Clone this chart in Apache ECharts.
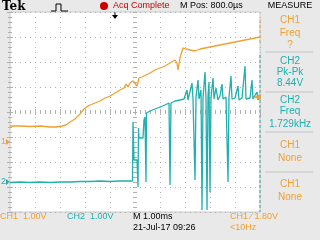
<!DOCTYPE html>
<html><head><meta charset="utf-8">
<script src="https://cdn.jsdelivr.net/npm/echarts@6/dist/echarts.min.js"></script>
<style>html,body{margin:0;padding:0;background:#e9e9e9}#c{width:320px;height:240px}</style>
</head><body><div id="c"></div>
<script>
// ---- data (time in ms relative to trigger, volts) ----
const ch1Time = [-4.2,-3.8,-3.4,-3.0,-2.6,-2.36,-2.12,-1.96,-1.8,-1.6,-1.4,-1.24,-1.08,-0.8,-0.6,-0.4,-0.2,0,0.2,0.36,0.44,0.52,0.6,0.72,0.8,0.88,0.96,1.08,1.24,1.4,1.6,1.8,2.0,2.2,2.4,2.48,2.52,2.6,2.72,2.84,3.0,3.2,3.4,3.6,3.8,4.0,4.2,4.4,4.6,4.8,5.0,5.2,5.4,5.6,5.8];
const ch1Volts = [0.64,0.64,0.62,0.64,0.60,0.60,0.64,0.68,0.80,0.92,1.12,1.32,1.44,1.56,1.64,1.76,1.84,1.96,2.08,2.16,2.32,2.2,2.36,2.44,2.48,2.24,2.56,2.6,2.68,2.76,2.88,2.96,3.04,3.16,3.28,3.16,2.88,3.36,3.76,3.72,3.68,3.64,3.72,3.76,3.8,3.84,3.88,3.92,3.96,4.0,4.04,4.08,4.12,4.16,4.2];
const ch2Time = [-4.2,-3.8,-3.4,-3.0,-2.6,-2.2,-1.8,-1.4,-1.0,-0.6,-0.2,0.2,0.6,0.7,0.72,0.76,0.88,0.92,0.94,0.96,1.12,1.16,1.2,1.24,1.26,1.4,1.6,1.8,2.0,2.16,2.2,2.24,2.4,2.6,2.76,2.88,2.92,3.0,3.08,3.12,3.2,3.24,3.32,3.36,3.44,3.48,3.52,3.6,3.64,3.68,3.72,3.76,3.8,3.84,3.92,3.96,4.04,4.12,4.2,4.28,4.32,4.44,4.52,4.56,4.64,4.68,4.8,4.92,4.96,5.08,5.2,5.24,5.32,5.4,5.48,5.52,5.6,5.68,5.72,5.8];
const ch2Volts = [-0.02,0,-0.02,0,-0.02,0,0,0.02,0.02,0.04,0.02,0.04,0.04,0.04,2.4,0.88,0.88,-0.2,2.16,1.76,1.76,2.48,2.6,0,2.76,2.84,2.92,3.0,3.08,3.16,-0.12,3.16,3.24,3.28,3.32,3.68,3.28,3.36,3.96,3.32,0.08,3.4,4.08,3.32,3.68,-1.12,3.36,4.4,3.32,-1.12,3.44,4.0,-0.4,3.36,4.16,3.32,3.76,3.28,3.44,3.92,3.32,3.4,0,3.4,4.24,3.32,3.36,3.84,3.28,3.36,4.64,3.32,3.28,3.36,4.08,3.32,3.28,3.6,3.28,3.48];
const TRIG_LEVEL = 1.8;
const CH1_POS = -1.2, CH2_POS = -2.8;   // channel offsets in divisions
const T_MIN = -4.2, T_MAX = 5.8;

const ORANGE = '#f0a030', CYAN = '#1fb0b0', RED = '#cc0000';
const FONT = '"Liberation Sans", Arial, sans-serif';

const ch1 = ch1Time.map((t,i)=>[t,ch1Volts[i]]);
const ch2 = ch2Time.map((t,i)=>[t,ch2Volts[i]]);

const chart = echarts.init(document.getElementById('c'), null, {renderer:'canvas'});
const G = {left:10, top:12, width:250, height:200};
const dotted = {color:'#b0b0b0', width:1, type:[1,4]};
function frameX(extra){return Object.assign({type:'value',min:0,max:10,interval:1,axisLabel:{show:false},splitLine:{show:false},
  axisLine:{show:false},axisTick:{show:false},minorTick:{show:false}},extra);}
function frameY(extra){return Object.assign({type:'value',min:-4,max:4,interval:1,axisLabel:{show:false},splitLine:{show:false},
  axisLine:{show:false},axisTick:{show:false},minorTick:{show:false}},extra);}
const tk = {show:true,inside:true,length:3,lineStyle:{color:'#b0b0b0'}};
const mtk = {show:true,splitNumber:5,length:2,lineStyle:{color:'#b0b0b0'}};

const txt = (x,y,s,c,size,extra)=>Object.assign({type:'text',x:x,y:y,style:Object.assign({text:s,fill:c||'#000',font:(size||9)+'px '+FONT,textVerticalAlign:'middle'},extra||{})});

chart.setOption({
  animation:false,
  backgroundColor:'#e9e9e9',
  grid:{left:G.left,top:G.top,width:G.width,height:G.height,show:true,backgroundColor:'#ffffff',borderColor:'#c8c8c8',borderWidth:1},
  xAxis:[
    frameX({position:'bottom',splitLine:{show:true,lineStyle:dotted},axisTick:tk,minorTick:mtk}),
    frameX({position:'top',axisTick:tk,minorTick:mtk}),
    frameX({position:'bottom',offset:-100,axisTick:Object.assign({},tk,{length:2}),minorTick:mtk}),
    frameX({position:'bottom',offset:-100,axisTick:Object.assign({},tk,{inside:false,length:2}),minorTick:mtk}),
    {type:'value',min:T_MIN,max:T_MAX,show:false}
  ],
  yAxis:[
    frameY({position:'left',splitLine:{show:true,lineStyle:dotted},axisTick:tk,minorTick:mtk}),
    frameY({position:'right',axisTick:tk,minorTick:mtk}),
    frameY({position:'left',offset:-125,axisTick:Object.assign({},tk,{length:2}),minorTick:mtk}),
    frameY({position:'left',offset:-125,axisTick:Object.assign({},tk,{inside:false,length:2}),minorTick:mtk}),
    {type:'value',min:-4-CH1_POS,max:4-CH1_POS,show:false},
    {type:'value',min:-4-CH2_POS,max:4-CH2_POS,show:false}
  ],
  series:[
    {type:'line',name:'CH1',xAxisIndex:4,yAxisIndex:4,data:ch1,symbol:'none',lineStyle:{color:ORANGE,width:1.3},clip:true,
     markPoint:{symbol:'triangle',symbolSize:[6,7],symbolRotate:90,symbolOffset:[-3,0],itemStyle:{color:ORANGE},label:{show:false},
       data:[{coord:[T_MAX,TRIG_LEVEL]}]}},
    {type:'line',name:'CH2',xAxisIndex:4,yAxisIndex:5,data:ch2,symbol:'none',lineStyle:{color:CYAN,width:1.3},clip:true}
  ],
  graphic:[
    // header
    txt(2,7,'Tek','#000',12,{font:'bold 12px "DejaVu Serif", serif'}),
    {type:'polyline',shape:{points:[[51,11],[56,11],[56,4],[61,4],[61,11],[68,11]]},style:{stroke:'#000',lineWidth:1,fill:null}},
    {type:'circle',shape:{cx:104,cy:6,r:4},style:{fill:RED}},
    txt(113,6,'Acq Complete',RED,9),
    txt(180,6,'M Pos: 800.0\u00b5s','#000',9),
    txt(290,6,'MEASURE','#000',9,{textAlign:'center'}),
    // trigger position arrow
    {type:'polygon',shape:{points:[[112,15],[118,15],[115,19]]},style:{fill:'#000'}},
    {type:'line',shape:{x1:115,y1:12,x2:115,y2:16},style:{stroke:'#000',lineWidth:1}},
    // channel ground markers
    txt(1,142,'1',ORANGE,9),
    {type:'polygon',shape:{points:[[6,139],[10,142],[6,145]]},style:{fill:ORANGE}},
    txt(1,182,'2',CYAN,9),
    {type:'polygon',shape:{points:[[6,179],[10,182],[6,185]]},style:{fill:CYAN}},
    // right edge traces
    {type:'line',shape:{x1:260,y1:55,x2:260,y2:212},style:{stroke:CYAN,lineWidth:1,lineDash:[3,2]}},
    {type:'line',shape:{x1:260,y1:20,x2:260,y2:45},style:{stroke:ORANGE,lineWidth:1,lineDash:[3,2]}},
    // measure panel
    txt(290,20,'CH1',ORANGE,10,{textAlign:'center'}),
    txt(290,33,'Freq',ORANGE,10,{textAlign:'center'}),
    txt(290,45,'?',ORANGE,10,{textAlign:'center'}),
    {type:'line',shape:{x1:265,y1:52,x2:313,y2:52},style:{stroke:'#c4c4c4',lineWidth:1}},
    txt(290,61,'CH2',CYAN,10,{textAlign:'center'}),
    txt(290,72,'Pk-Pk',CYAN,10,{textAlign:'center'}),
    txt(290,83,'8.44V',CYAN,10,{textAlign:'center'}),
    {type:'line',shape:{x1:265,y1:92,x2:313,y2:92},style:{stroke:'#c4c4c4',lineWidth:1}},
    txt(290,100,'CH2',CYAN,10,{textAlign:'center'}),
    txt(290,111,'Freq',CYAN,10,{textAlign:'center'}),
    txt(290,124,'1.729kHz',CYAN,10,{textAlign:'center'}),
    {type:'line',shape:{x1:265,y1:132,x2:313,y2:132},style:{stroke:'#c4c4c4',lineWidth:1}},
    txt(290,145,'CH1',ORANGE,10,{textAlign:'center'}),
    txt(290,158,'None',ORANGE,10,{textAlign:'center'}),
    {type:'line',shape:{x1:265,y1:172,x2:313,y2:172},style:{stroke:'#c4c4c4',lineWidth:1}},
    txt(290,184,'CH1',ORANGE,10,{textAlign:'center'}),
    txt(290,197,'None',ORANGE,10,{textAlign:'center'}),
    // footer
    txt(0,217,'CH1  1.00V',ORANGE,9),
    txt(67,217,'CH2  1.00V',CYAN,9),
    txt(133,217,'M 1.00ms','#000',9),
    txt(230,217,'CH1 \u2215 1.80V',ORANGE,9),
    txt(133,228,'21-Jul-17 09:26','#000',9),
    txt(230,228,'<10Hz',ORANGE,9)
  ]
});
</script></body></html>
